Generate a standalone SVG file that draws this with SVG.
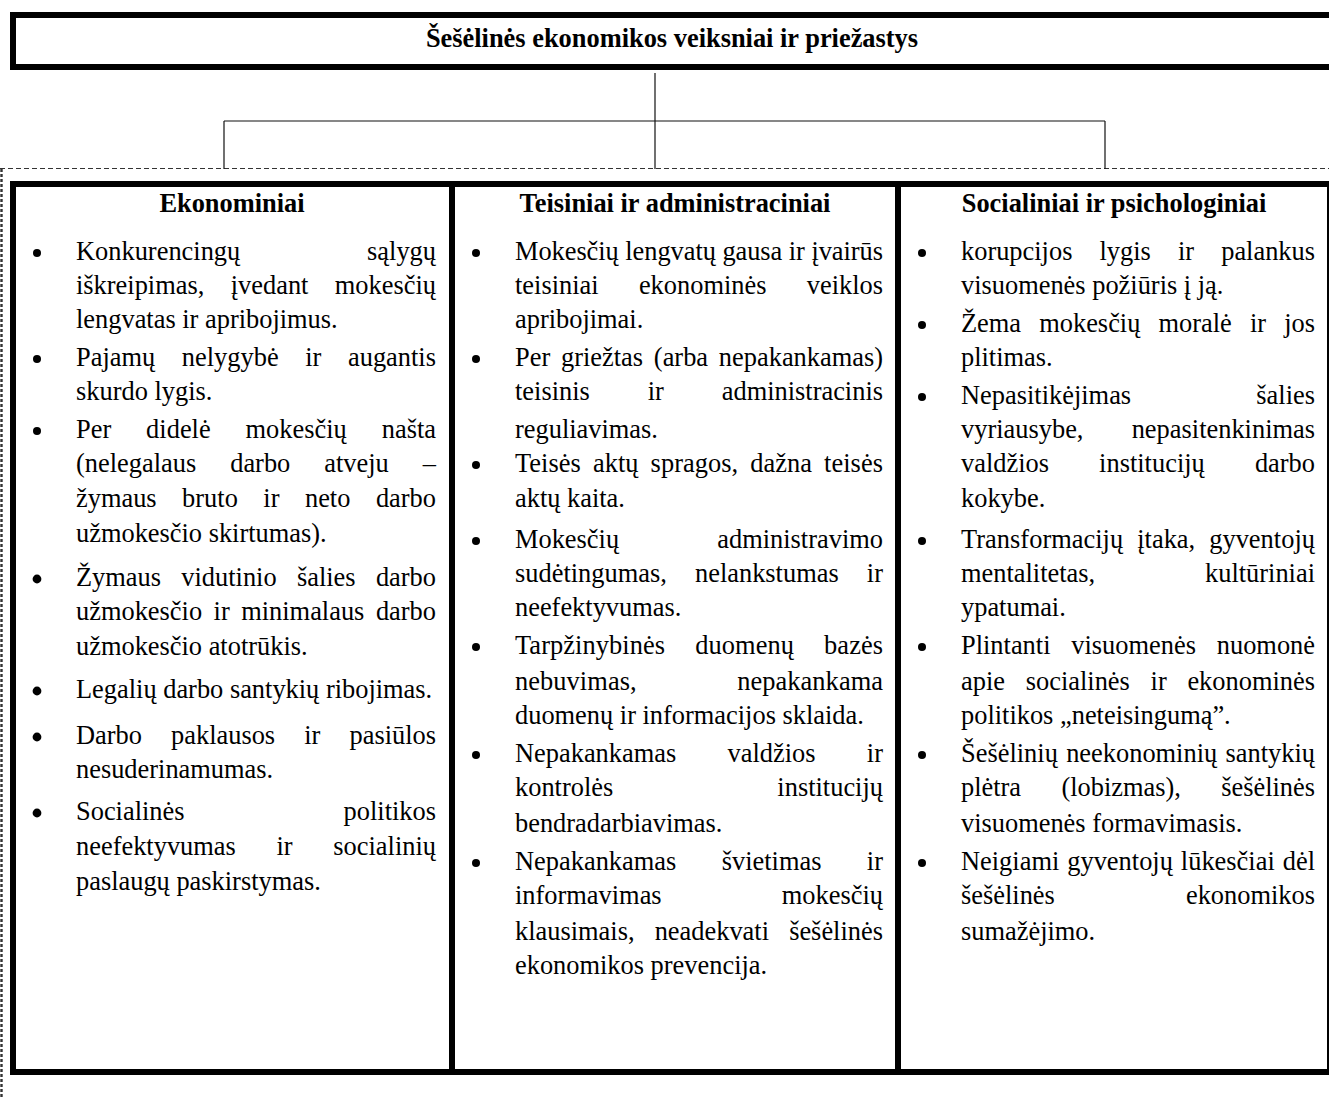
<svg xmlns="http://www.w3.org/2000/svg" width="1329" height="1100" viewBox="0 0 1329 1100">
  <style>
    text { font-family: "Liberation Serif", "Times New Roman", serif; font-size: 26.4px; fill: #000; }
    .b { font-weight: bold; }
    .thick { fill: none; stroke: #000; stroke-width: 6; }
    .thin { fill: none; stroke: #111; stroke-width: 1.2; }
    .dash-h { fill: none; stroke: #333; stroke-width: 1.2; stroke-dasharray: 5 3; }
    .dash-v { fill: none; stroke: #333; stroke-width: 2.4; stroke-dasharray: 3 2; }
    .dot { fill: #000; }
  </style>

  <!-- dashed frame around the lower table -->
  <g id="frame">
    <line class="dash-h" x1="0" y1="168.5" x2="1329" y2="168.5"/>
    <line class="dash-v" x1="1.5" y1="169" x2="1.5" y2="1097"/>
  </g>

  <!-- title box -->
  <g id="title">
    <rect class="thick" x="13" y="15" width="1322" height="52"/>
    <text class="b" x="672" y="47" text-anchor="middle">Šešėlinės ekonomikos veiksniai ir priežastys</text>
  </g>

  <!-- tree connectors from title to the three columns -->
  <g id="connectors">
    <line class="thin" x1="655" y1="73" x2="655" y2="169"/>
    <line class="thin" x1="224" y1="121" x2="1105" y2="121"/>
    <line class="thin" x1="224" y1="121" x2="224" y2="169"/>
    <line class="thin" x1="1105" y1="121" x2="1105" y2="169"/>
  </g>

  <!-- table outline and column dividers -->
  <g id="table">
    <rect class="thick" x="13" y="184" width="1317" height="888"/>
    <line class="thick" x1="452" y1="184" x2="452" y2="1072"/>
    <line class="thick" x1="898" y1="184" x2="898" y2="1072"/>
  </g>

  <!-- column 1 -->
  <g id="col-ekonominiai">
    <text class="b" x="232" y="212" text-anchor="middle">Ekonominiai</text>
    <circle class="dot" cx="37" cy="253" r="4"/>
    <circle class="dot" cx="37" cy="359" r="4"/>
    <circle class="dot" cx="37" cy="431" r="4"/>
    <circle class="dot" cx="37" cy="579" r="4.4"/>
    <circle class="dot" cx="37" cy="691" r="4.4"/>
    <circle class="dot" cx="37" cy="737" r="4.4"/>
    <circle class="dot" cx="37" cy="813" r="4.4"/>
    <text x="76" y="260" textLength="360" lengthAdjust="spacing" style="word-spacing:120.2px">Konkurencingų sąlygų</text>
    <text x="76" y="294" textLength="360" lengthAdjust="spacing" style="word-spacing:19.8px">iškreipimas, įvedant mokesčių</text>
    <text x="76" y="328">lengvatas ir apribojimus.</text>
    <text x="76" y="366" textLength="360" lengthAdjust="spacing" style="word-spacing:20px">Pajamų nelygybė ir augantis</text>
    <text x="76" y="400">skurdo lygis.</text>
    <text x="76" y="438" textLength="360" lengthAdjust="spacing" style="word-spacing:28.3px">Per didelė mokesčių našta</text>
    <text x="76" y="472" textLength="360" lengthAdjust="spacing" style="word-spacing:27.4px">(nelegalaus darbo atveju –</text>
    <text x="76" y="507" textLength="360" lengthAdjust="spacing" style="word-spacing:18.9px">žymaus bruto ir neto darbo</text>
    <text x="76" y="542">užmokesčio skirtumas).</text>
    <text x="76" y="586" textLength="360" lengthAdjust="spacing" style="word-spacing:13.7px">Žymaus vidutinio šalies darbo</text>
    <text x="76" y="620" textLength="360" lengthAdjust="spacing" style="word-spacing:4.9px">užmokesčio ir minimalaus darbo</text>
    <text x="76" y="655">užmokesčio atotrūkis.</text>
    <text x="76" y="698">Legalių darbo santykių ribojimas.</text>
    <text x="76" y="744" textLength="360" lengthAdjust="spacing" style="word-spacing:22.5px">Darbo paklausos ir pasiūlos</text>
    <text x="76" y="778">nesuderinamumas.</text>
    <text x="76" y="820" textLength="360" lengthAdjust="spacing" style="word-spacing:152.4px">Socialinės politikos</text>
    <text x="76" y="855" textLength="360" lengthAdjust="spacing" style="word-spacing:34.1px">neefektyvumas ir socialinių</text>
    <text x="76" y="890">paslaugų paskirstymas.</text>
  </g>

  <!-- column 2 -->
  <g id="col-teisiniai">
    <text class="b" x="675" y="212" text-anchor="middle">Teisiniai ir administraciniai</text>
    <circle class="dot" cx="476" cy="253" r="4"/>
    <circle class="dot" cx="476" cy="359" r="4"/>
    <circle class="dot" cx="476" cy="465" r="4"/>
    <circle class="dot" cx="476" cy="541" r="4"/>
    <circle class="dot" cx="476" cy="647" r="4"/>
    <circle class="dot" cx="476" cy="755" r="4"/>
    <circle class="dot" cx="476" cy="863" r="4"/>
    <text x="515" y="260" textLength="368" lengthAdjust="spacing">Mokesčių lengvatų gausa ir įvairūs</text>
    <text x="515" y="294" textLength="368" lengthAdjust="spacing" style="word-spacing:33.7px">teisiniai ekonominės veiklos</text>
    <text x="515" y="328">apribojimai.</text>
    <text x="515" y="366" textLength="368" lengthAdjust="spacing" style="word-spacing:4.2px">Per griežtas (arba nepakankamas)</text>
    <text x="515" y="400" textLength="368" lengthAdjust="spacing" style="word-spacing:51.3px">teisinis ir administracinis</text>
    <text x="515" y="438">reguliavimas.</text>
    <text x="515" y="472" textLength="368" lengthAdjust="spacing" style="word-spacing:5.3px">Teisės aktų spragos, dažna teisės</text>
    <text x="515" y="507">aktų kaita.</text>
    <text x="515" y="548" textLength="368" lengthAdjust="spacing" style="word-spacing:91.5px">Mokesčių administravimo</text>
    <text x="515" y="582" textLength="368" lengthAdjust="spacing" style="word-spacing:21.6px">sudėtingumas, nelankstumas ir</text>
    <text x="515" y="616">neefektyvumas.</text>
    <text x="515" y="654" textLength="368" lengthAdjust="spacing" style="word-spacing:23.4px">Tarpžinybinės duomenų bazės</text>
    <text x="515" y="690" textLength="368" lengthAdjust="spacing" style="word-spacing:93.8px">nebuvimas, nepakankama</text>
    <text x="515" y="724">duomenų ir informacijos sklaida.</text>
    <text x="515" y="762" textLength="368" lengthAdjust="spacing" style="word-spacing:44.7px">Nepakankamas valdžios ir</text>
    <text x="515" y="796" textLength="368" lengthAdjust="spacing" style="word-spacing:157.5px">kontrolės institucijų</text>
    <text x="515" y="832">bendradarbiavimas.</text>
    <text x="515" y="870" textLength="368" lengthAdjust="spacing" style="word-spacing:38.8px">Nepakankamas švietimas ir</text>
    <text x="515" y="904" textLength="368" lengthAdjust="spacing" style="word-spacing:113.6px">informavimas mokesčių</text>
    <text x="515" y="940" textLength="368" lengthAdjust="spacing" style="word-spacing:13.5px">klausimais, neadekvati šešėlinės</text>
    <text x="515" y="974">ekonomikos prevencija.</text>
  </g>

  <!-- column 3 -->
  <g id="col-socialiniai">
    <text class="b" x="1114" y="212" text-anchor="middle">Socialiniai ir psichologiniai</text>
    <circle class="dot" cx="922" cy="253" r="4"/>
    <circle class="dot" cx="922" cy="325" r="4"/>
    <circle class="dot" cx="922" cy="397" r="4"/>
    <circle class="dot" cx="922" cy="541" r="4"/>
    <circle class="dot" cx="922" cy="647" r="4"/>
    <circle class="dot" cx="922" cy="755" r="4"/>
    <circle class="dot" cx="922" cy="863" r="4"/>
    <text x="961" y="260" textLength="354" lengthAdjust="spacing" style="word-spacing:20.5px">korupcijos lygis ir palankus</text>
    <text x="961" y="294">visuomenės požiūris į ją.</text>
    <text x="961" y="332" textLength="354" lengthAdjust="spacing" style="word-spacing:11.5px">Žema mokesčių moralė ir jos</text>
    <text x="961" y="366">plitimas.</text>
    <text x="961" y="404" textLength="354" lengthAdjust="spacing" style="word-spacing:118.6px">Nepasitikėjimas šalies</text>
    <text x="961" y="438" textLength="354" lengthAdjust="spacing" style="word-spacing:41.6px">vyriausybe, nepasitenkinimas</text>
    <text x="961" y="472" textLength="354" lengthAdjust="spacing" style="word-spacing:43.5px">valdžios institucijų darbo</text>
    <text x="961" y="507">kokybe.</text>
    <text x="961" y="548" textLength="354" lengthAdjust="spacing" style="word-spacing:7.3px">Transformacijų įtaka, gyventojų</text>
    <text x="961" y="582" textLength="354" lengthAdjust="spacing" style="word-spacing:103.2px">mentalitetas, kultūriniai</text>
    <text x="961" y="616">ypatumai.</text>
    <text x="961" y="654" textLength="354" lengthAdjust="spacing" style="word-spacing:14.2px">Plintanti visuomenės nuomonė</text>
    <text x="961" y="690" textLength="354" lengthAdjust="spacing" style="word-spacing:14.1px">apie socialinės ir ekonominės</text>
    <text x="961" y="724">politikos „neteisingumą”.</text>
    <text x="961" y="762" textLength="354" lengthAdjust="spacing" style="word-spacing:1.7px">Šešėlinių neekonominių santykių</text>
    <text x="961" y="796" textLength="354" lengthAdjust="spacing" style="word-spacing:33.7px">plėtra (lobizmas), šešėlinės</text>
    <text x="961" y="832">visuomenės formavimasis.</text>
    <text x="961" y="870" textLength="354" lengthAdjust="spacing" style="word-spacing:1.4px">Neigiami gyventojų lūkesčiai dėl</text>
    <text x="961" y="904" textLength="354" lengthAdjust="spacing" style="word-spacing:124.5px">šešėlinės ekonomikos</text>
    <text x="961" y="940">sumažėjimo.</text>
  </g>
</svg>
